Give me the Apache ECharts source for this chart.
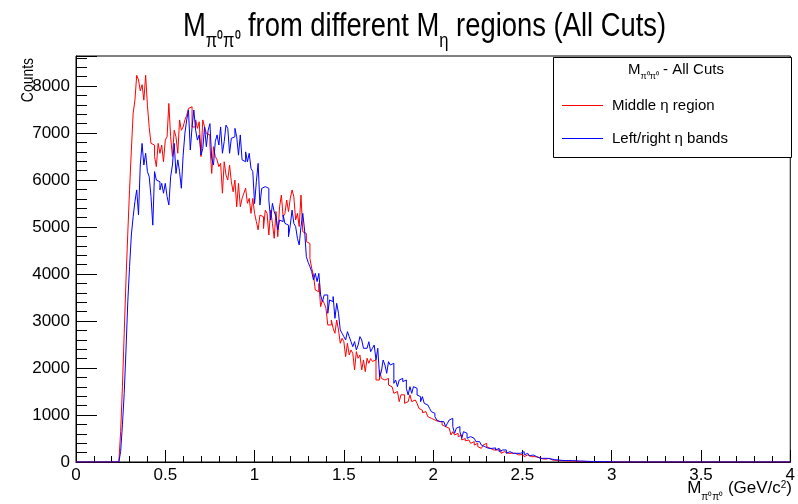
<!DOCTYPE html>
<html>
<head>
<meta charset="utf-8">
<script src="https://cdn.jsdelivr.net/npm/echarts@6/dist/echarts.min.js"></script>
<style>html,body{margin:0;padding:0;background:#fff}#c{width:798px;height:504px}</style>
</head>
<body>
<div id="c"></div>
<script>
// Histogram definition: bins of 0.01 GeV/c^2 from 0 to 4; counts listed from binStart onwards (other bins are empty)
const binStart = 0.24;
const binWidth = 0.01;
const xMin = 0, xMax = 4;
const yMax = 8640;
const xTickLabels = ['0','0.5','1','1.5','2','2.5','3','3.5','4'];
const yTickLabels = ['0','1000','2000','3000','4000','5000','6000','7000','8000'];
const seriesNames = ['Middle η region', 'Left/right η bands'];

const redCounts = [
30,650,1600,2740,3870,4870,5800,6640,7420,7700,
8230,8130,7900,8030,7700,8230,7590,7120,6780,6745,
6500,6285,6780,6570,6745,6390,6850,6920,7630,6920,
6500,7060,6920,6570,7280,7060,7130,7280,7380,7525,
7560,7130,7130,7280,7100,7240,6500,7280,7130,6990,
6960,6745,6140,6710,6500,6430,6285,6355,5720,6390,
6110,6000,6320,5965,5750,6000,5430,5930,5430,5610,
5720,5825,5505,5610,5290,5610,5290,5115,4940,
5255,5220,4970,5360,5290,4830,5360,5080,4760,5330,
4795,5430,5680,5220,5290,5575,5330,5610,5790,5645,
5150,5290,5010,5680,4900,4865,4690,4650,4330,4120,
3980,3660,3625,3800,3306,3450,3377,3270,2916,2916,
3022,2845,2739,3022,2810,2526,2632,2562,2242,2526,
2278,2384,2313,1959,2349,2207,2278,1959,2172,1923,
2207,
2100,2200,2140,2170,1745,1745,1958,1780,1745,1710,
1780,1639,1600,1568,1461,1500,1530,1284,1430,1430,
1249,1284,1320,1430,1284,1320,1284,1249,1142,1100,
1050,1071,1036,965,930,894,894,894,860,823,
860,790,752,720,720,681,575,645,575,610,
540,575,469,500,450,469,433,398,433,360,
398,327,290,256,360,398,327,290,
300,256,290,256,220,256,185,220,200,185,
220,185,200,185,185,150,150,160,150,114,
150,114,114,100,114,78,100,78,70,78,
60,55,78,45,40,45,35,43,30,35,
25,30,20,25,20,15,20,12,15,10,
12,8,10,6,8,5,6,4,5,3,
4,2,3,2,1,2,1,1
];

const blueCounts = [
30,224,790,1460,2380,3410,4160,4830,5220,5540,
5790,5260,6320,6780,6320,6570,6180,6070,5650,5040,
6180,6000,5965,5790,5930,5720,5930,5650,5470,6070,
6320,6780,6140,6430,6180,5825,6530,7000,7280,7490,
6640,7130,7490,7060,6850,6960,6530,6670,7130,6710,
7060,7200,6460,6320,6820,6960,6745,7130,6570,6820,
7170,7100,6570,6890,6920,7100,6920,6530,6960,6430,
6390,6600,6390,6570,6250,6180,5500,5965,6355,
5468,5823,5860,5894,5823,5575,5149,5504,5327,5220,
4937,5149,5115,5256,5078,5040,4795,5040,5362,5078,
5010,4759,4618,5010,5291,4937,4369,4250,4156,4050,
3873,4015,3838,4015,3554,3412,3554,3554,3164,3448,
3412,3520,3058,3377,3164,2810,2739,2668,2597,2774,
2668,2562,2455,2562,2384,2490,2668,2597,2420,2420,
2384,
2560,2348,2420,2490,2170,2420,1816,1920,2170,2064,
1888,2135,2064,2100,1674,1745,1603,1745,1780,1710,
1745,1568,1426,1603,1461,1603,1568,1426,1390,1284,
1390,1249,1214,1178,1142,1071,1036,965,894,859,
894,859,823,752,823,894,929,752,611,720,
752,645,504,645,611,504,540,540,504,469,
433,433,469,360,327,327,290,256,
290,256,300,256,290,220,256,220,256,185,
220,200,185,220,185,150,185,200,220,150,
185,150,130,150,114,114,100,78,100,78,
78,78,60,65,55,50,60,43,43,35,
43,30,35,30,25,30,20,25,43,20,
15,20,12,15,10,12,8,10,6,8,
5,6,4,5,3,8,3,2
];

function histData(counts) {
  const nBins = Math.round((xMax - xMin) / binWidth);
  const first = Math.round((binStart - xMin) / binWidth);
  const pts = [];
  for (let i = 0; i < nBins; i++) {
    const k = i - first;
    const v = (k >= 0 && k < counts.length) ? counts[k] : 0;
    pts.push([+(xMin + i * binWidth).toFixed(4), v]);
  }
  pts.push([xMax, 0]);
  return pts;
}

const FONT = "'Liberation Sans',Arial,sans-serif";
const chart = echarts.init(document.getElementById('c'), null, {renderer: 'canvas'});
chart.setOption({
  animation: false,
  backgroundColor: '#fff',
  grid: {left: 76, right: 6, top: 56, bottom: 42, show: true, borderColor: '#000', borderWidth: 1, backgroundColor: 'transparent'},
  xAxis: {
    type: 'value', min: xMin, max: xMax, interval: 0.5,
    axisLine: {show: true, onZero: false, lineStyle: {color: '#000', width: 1}},
    axisTick: {show: true, inside: true, length: 12, lineStyle: {color: '#000'}},
    minorTick: {show: true, splitNumber: 5, length: 6, lineStyle: {color: '#000'}},
    splitLine: {show: false},
    axisLabel: {color: '#000', fontFamily: FONT, fontSize: 17, margin: 5,
      formatter: function (v) { const i = Math.round(v / 0.5); return xTickLabels[i] !== undefined ? xTickLabels[i] : ''; }}
  },
  yAxis: {
    type: 'value', min: 0, max: yMax, interval: 1000,
    axisLine: {show: true, lineStyle: {color: '#000', width: 1}},
    axisTick: {show: true, inside: true, length: 21, lineStyle: {color: '#000'}},
    minorTick: {show: true, splitNumber: 5, length: 11, lineStyle: {color: '#000'}},
    splitLine: {show: false},
    axisLabel: {color: '#000', fontFamily: FONT, fontSize: 17, margin: 6, showMaxLabel: false,
      formatter: function (v) { const i = Math.round(v / 1000); return (v % 1000 === 0 && yTickLabels[i] !== undefined) ? yTickLabels[i] : ''; }}
  },
  legend: {
    show: true, orient: 'vertical', left: 557, top: 93, itemWidth: 41, itemHeight: 1, itemGap: 18,
    icon: 'rect', z: 6,
    textStyle: {fontFamily: FONT, fontSize: 15, color: '#000', padding: [0,0,0,4]},
    data: [
      {name: seriesNames[0], itemStyle: {color: '#ff0000'}},
      {name: seriesNames[1], itemStyle: {color: '#0000ff'}}
    ]
  },
  graphic: [
    {type: 'text', z: 5, x: 183, y: 7, scaleX: 0.83, style: {
      text: '{m|M}{s|π⁰π⁰}{m| from different M}{s|η}{m| regions (All Cuts)}',
      rich: {
        m: {fontFamily: FONT, fontSize: 33, fill: '#000', verticalAlign: 'bottom', lineHeight: 36},
        s: {fontFamily: FONT, fontSize: 20, fill: '#000', verticalAlign: 'bottom', lineHeight: 30, padding: [0,0,-8,0]}
      }
    }},
    {type: 'rect', z: 3, shape: {x: 553.5, y: 57.5, width: 238, height: 100}, style: {fill: '#fff', stroke: '#000', lineWidth: 1}},
    {type: 'text', z: 5, left: 628, top: 62, style: {
      text: '{m|M}{s|π⁰π⁰}{m| - All Cuts}',
      rich: {m: {fontFamily: FONT, fontSize: 15, fill: '#000', verticalAlign: 'bottom'}, s: {fontFamily: FONT, fontSize: 9, fill: '#000', verticalAlign: 'bottom', padding: [0,0,-4,0]}}
    }},
    {type: 'text', z: 5, x: 20, y: 58, rotation: Math.PI / 2, originX: 0, originY: 0, scaleX: 0.82, style: {text: 'Counts', fontFamily: FONT, fontSize: 17, fill: '#000', align: 'right', verticalAlign: 'top'}},
    {type: 'text', z: 5, right: 6, top: 480, style: {
      text: '{m|M}{s|π⁰π⁰}{m| (GeV/c}{u|2}{m|)}',
      rich: {m: {fontFamily: FONT, fontSize: 17, fill: '#000', verticalAlign: 'bottom'}, s: {fontFamily: FONT, fontSize: 10, fill: '#000', verticalAlign: 'bottom', padding: [0,0,-5,0]}, u: {fontFamily: FONT, fontSize: 10, fill: '#000', verticalAlign: 'top'}}
    }}
  ],
  series: [
    {name: seriesNames[0], type: 'line', step: 'end', data: histData(redCounts), showSymbol: false, symbol: 'none',
      lineStyle: {color: '#ff0000', width: 1}, itemStyle: {color: '#ff0000'}, z: 2},
    {name: seriesNames[1], type: 'line', step: 'end', data: histData(blueCounts), showSymbol: false, symbol: 'none',
      lineStyle: {color: '#0000ff', width: 1}, itemStyle: {color: '#0000ff'}, z: 2}
  ]
});
</script>
</body>
</html>
